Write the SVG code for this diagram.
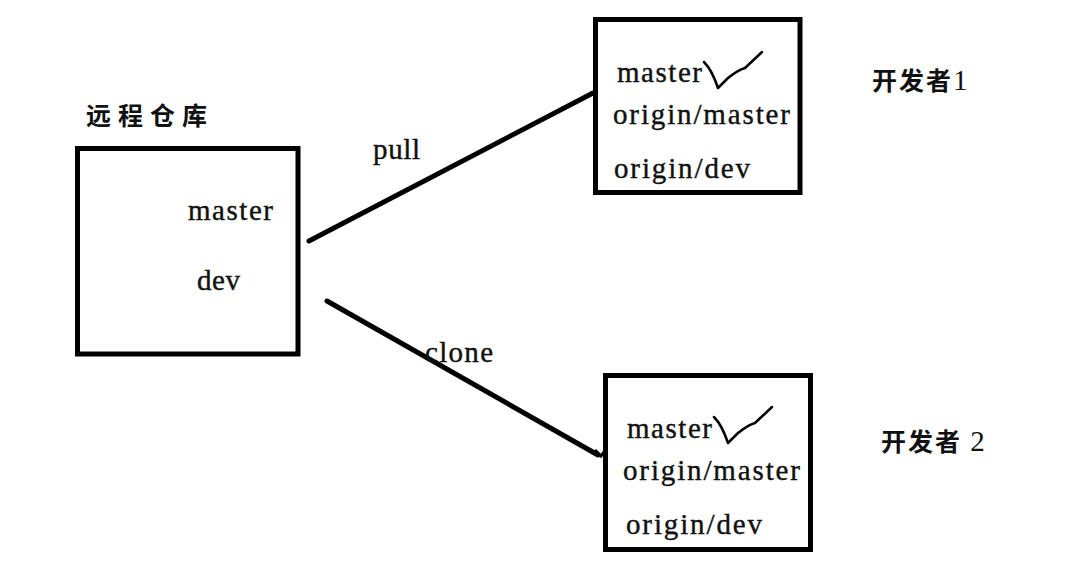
<svg xmlns="http://www.w3.org/2000/svg" width="1080" height="564" viewBox="0 0 1080 564">
<style>
.box{fill:#fff;stroke:#000;stroke-width:5}
.lbl{font-family:"Liberation Serif",serif;font-size:29px;fill:#111;stroke:#111;stroke-width:0.4}
.cjk{font-family:"Liberation Serif","Noto Sans CJK SC",serif;font-size:25px;font-weight:bold;fill:#111}
.edge{stroke:#000;stroke-width:5;fill:none;stroke-linecap:round}
.check{stroke:#000;stroke-width:2.5;fill:none;stroke-linecap:round;stroke-linejoin:round}
</style>
<rect width="1080" height="564" fill="#fff"/>
<g id="connectors">
<line class="edge" x1="309" y1="241" x2="593" y2="93"/>
<path class="edge" d="M327 301 L598 455"/>
<path d="M595 450 L601 456 L604 452" stroke="#000" stroke-width="3" fill="none"/>
<text class="lbl" x="373" y="159" textLength="47">pull</text>
<text class="lbl" x="425" y="362" textLength="68">clone</text>
</g>
<g id="remote">
<text class="cjk" x="86" y="125" letter-spacing="7">远程仓库</text>
<rect class="box" x="77.5" y="148.5" width="220.5" height="205.5"/>
<text class="lbl" x="188" y="220" textLength="85">master</text>
<text class="lbl" x="197" y="290" textLength="43">dev</text>
</g>
<g id="dev1">
<rect class="box" x="595.5" y="19.5" width="204.5" height="173"/>
<text class="lbl" x="617" y="82" textLength="85">master</text>
<path class="check" d="M704 62 Q712 70 718 88 L728 78 Q738 70 745 68 L762 52"/>
<text class="lbl" x="613" y="124" textLength="177">origin/master</text>
<text class="lbl" x="614" y="178" textLength="136">origin/dev</text>
<text class="cjk" x="872" y="90" letter-spacing="2">开发者<tspan font-size="29" font-weight="normal">1</tspan></text>
</g>
<g id="dev2">
<rect class="box" x="605.5" y="375.5" width="205" height="174"/>
<text class="lbl" x="627" y="438" textLength="85">master</text>
<path class="check" d="M714 417 Q722 425 728 443 L738 433 Q748 425 755 423 L772 407"/>
<text class="lbl" x="623" y="480" textLength="177">origin/master</text>
<text class="lbl" x="626" y="534" textLength="136">origin/dev</text>
<text class="cjk" x="881" y="451" letter-spacing="2">开发者 <tspan font-size="29" font-weight="normal">2</tspan></text>
</g>
</svg>
